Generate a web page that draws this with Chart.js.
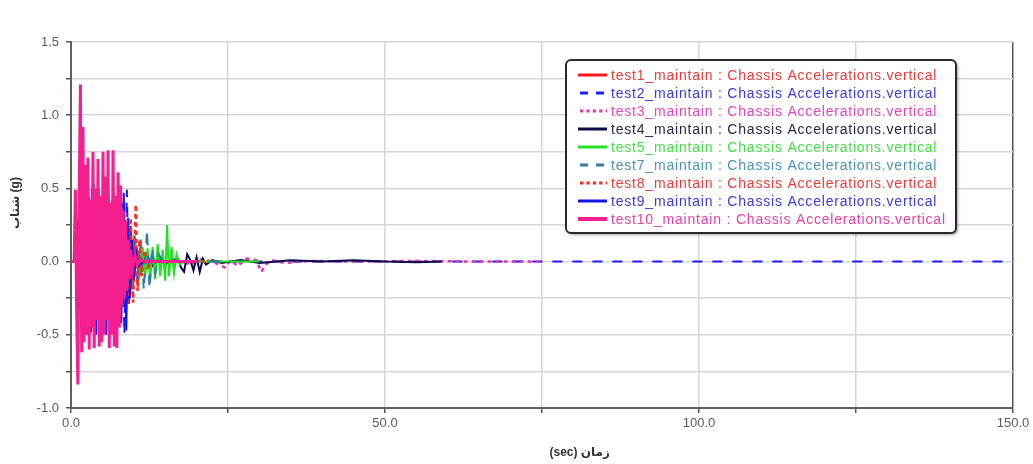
<!DOCTYPE html>
<html>
<head>
<meta charset="utf-8">
<script src="https://cdn.jsdelivr.net/npm/chart.js@4.4.1/dist/chart.umd.min.js"></script>
<style>
  html, body { margin: 0; padding: 0; background: #ffffff; }
  canvas { display: block; }
</style>
</head>
<body>
<canvas id="chart" width="1033" height="464"></canvas>
<script>
// Vertical chassis acceleration (g) against time (s), one run per series.
const seriesNames = [
  'test1_maintain', 'test2_maintain', 'test3_maintain', 'test4_maintain', 'test5_maintain',
  'test7_maintain', 'test8_maintain', 'test9_maintain', 'test10_maintain'
];
const signalName = 'Chassis Accelerations.vertical';

const test1_t = [0, 1.5, 2, 3, 4, 5, 6, 7, 8, 9, 9.5, 10, 10.5, 11, 11.5, 12, 13, 20];
const test1_v = [0, 0, 0.28, -0.3, 0.3, -0.28, 0.3, -0.27, 0.2, -0.15, 0.1, -0.12, 0.08, -0.05, 0.03, -0.01, 0, 0];

const test2_t = [0, 0.9, 1.3, 1.7, 2.1, 2.5, 2.9, 3.3, 3.7, 4.1, 4.5, 4.9, 5.3, 5.7, 6.1, 6.5, 6.9, 7.3, 7.7, 8.1, 8.5, 8.9, 9.2, 9.5, 9.8, 10.1, 10.5, 11, 12, 150];
const test2_v = [0, 0, -0.3, 0.4, -0.42, 0.48, -0.45, 0.5, -0.46, 0.45, -0.44, 0.46, -0.43, 0.47, -0.45, 0.42, -0.46, 0.44, -0.42, 0.4, -0.5, 0.49, -0.3, 0.25, -0.15, 0.1, -0.05, 0.02, 0, 0];

const test3_t = [0, 1.4, 2, 3, 4, 5, 6, 7, 8, 9, 10, 11, 12, 13, 15, 17, 19, 21, 23, 24.5, 25.5, 26.5, 28, 29.5, 30.3, 31, 32, 34, 38, 45, 55, 65, 75];
const test3_v = [0, 0, -0.3, 0.3, -0.3, 0.32, -0.3, 0.3, -0.25, 0.2, -0.12, 0.08, -0.05, 0.03, -0.02, 0.01, -0.02, 0.02, -0.01, -0.04, 0.01, -0.03, 0.02, 0.01, -0.07, -0.02, 0.01, -0.01, 0.005, 0, 0.005, 0, 0];

const test4_t = [0, 1.3, 2, 3, 4, 5, 6, 7, 8, 9, 10, 11, 12, 13, 14, 15, 16, 17, 17.5, 18, 18.5, 19, 19.5, 20, 20.5, 21, 21.5, 22.5, 24, 27, 30, 35, 40, 45, 50, 55, 59];
const test4_v = [0, 0, 0.3, -0.3, 0.28, -0.3, 0.3, -0.28, 0.25, -0.2, 0.12, -0.08, 0.05, -0.03, 0.02, -0.02, 0.01, 0.02, -0.04, -0.07, 0.05, 0.01, -0.06, 0.03, -0.07, 0.02, -0.02, 0.01, -0.01, 0.01, -0.01, 0.01, 0, 0.01, 0, -0.005, 0];

const test5_t = [0, 1.2, 2, 3, 4, 5, 6, 7, 8, 9, 10, 10.8, 11.4, 11.8, 12.2, 12.6, 13.0, 13.4, 13.8, 14.2, 14.6, 15.0, 15.3, 15.6, 16.0, 16.4, 16.8, 17.3, 18, 30];
const test5_v = [0, 0, 0.2, -0.2, 0.22, -0.2, 0.2, -0.22, 0.2, -0.18, 0.15, -0.12, 0.1, -0.11, 0.09, -0.13, 0.1, -0.12, 0.12, -0.1, 0.08, -0.13, 0.25, -0.1, 0.1, -0.08, 0.05, -0.02, 0, 0];

const test7_t = [0, 1.1, 1.6, 2.1, 2.6, 3.1, 3.6, 4.1, 4.6, 5.1, 5.6, 6.1, 6.6, 7.1, 7.6, 8.1, 8.6, 9.1, 9.6, 10.1, 10.6, 11.1, 11.6, 12.1, 12.5, 12.9, 13.4, 14, 14.8, 16, 25];
const test7_v = [0, 0, -0.25, 0.3, -0.3, 0.28, -0.32, 0.3, -0.3, 0.3, -0.28, 0.3, -0.3, 0.28, -0.3, 0.28, -0.25, 0.22, -0.22, 0.2, -0.18, 0.15, -0.2, 0.22, -0.19, 0.1, -0.08, 0.05, -0.02, 0, 0];

const test8_t = [0, 1.0, 1.5, 2.0, 2.5, 3.0, 3.5, 4.0, 4.5, 5.0, 5.5, 6.0, 6.5, 7.0, 7.5, 8.0, 8.5, 9.0, 9.5, 9.9, 10.3, 10.6, 10.9, 11.3, 11.7, 12.2, 13, 22];
const test8_v = [0, 0, 0.3, -0.3, 0.35, -0.32, 0.34, -0.3, 0.36, -0.33, 0.35, -0.3, 0.33, -0.32, 0.3, -0.3, 0.32, -0.3, 0.3, -0.28, 0.39, -0.2, 0.15, -0.1, 0.08, -0.04, 0, 0];

const test9_t = [0, 0.8, 1.2, 1.6, 2.0, 2.4, 2.8, 3.2, 3.6, 4.0, 4.4, 4.8, 5.2, 5.6, 6.0, 6.4, 6.8, 7.2, 7.6, 8.0, 8.4, 8.8, 9.1, 9.4, 9.7, 10.0, 10.4, 10.8, 11.5, 18];
const test9_v = [0, 0, 0.3, -0.45, 0.38, -0.5, 0.45, -0.48, 0.53, -0.5, 0.5, -0.47, 0.48, -0.5, 0.45, -0.48, 0.46, -0.45, 0.4, -0.42, 0.47, -0.47, 0.3, -0.25, 0.15, -0.12, 0.06, -0.03, 0, 0];

const test10_t = [0, 0.5, 0.7, 0.9, 1.1, 1.3, 1.5, 1.7, 1.9, 2.1, 2.3, 2.5, 2.7, 2.9, 3.1, 3.3, 3.5, 3.7, 3.9, 4.1, 4.3, 4.5, 4.7, 4.9, 5.1, 5.3, 5.5, 5.7, 5.9, 6.1, 6.3, 6.5, 6.7, 6.9, 7.1, 7.3, 7.5, 7.7, 7.9, 8.1, 8.3, 8.5, 8.7, 8.9, 9.1, 9.3, 9.5, 9.8, 10.2, 10.6, 11, 12, 20];
const test10_v = [0, 0, 0.49, -0.35, -0.84, 0.45, 1.21, -0.62, 0.92, -0.55, 0.66, -0.5, 0.71, -0.6, 0.42, -0.45, 0.75, -0.59, 0.5, -0.4, 0.7, -0.58, 0.45, -0.55, 0.75, -0.5, 0.58, -0.4, 0.76, -0.59, 0.4, -0.5, 0.76, -0.58, 0.45, -0.59, 0.61, -0.45, 0.52, -0.3, 0.35, -0.25, 0.28, -0.2, 0.15, -0.12, 0.08, -0.05, 0.04, -0.02, 0.01, 0, 0];

const xTickLabels = ['0.0', '50.0', '100.0', '150.0'];
const yTickLabels = ['-1.0', '-0.5', '0.0', '0.5', '1.0', '1.5'];
const xTitle = '(sec) زمان';
const yTitle = 'شتاب (g)';

const times = [test1_t, test2_t, test3_t, test4_t, test5_t, test7_t, test8_t, test9_t, test10_t];
const values = [test1_v, test2_v, test3_v, test4_v, test5_v, test7_v, test8_v, test9_v, test10_v];

// Line styles per run
const lineColors = ['#ff1a1a', '#1a1aff', '#e536aa', '#0c0c4a', '#22e022', '#2f7fa0', '#ff2a1a', '#1414e6', '#f51f8f'];
const textColors = ['#ec3b3b', '#3b3bd6', '#e446bd', '#25254f', '#45e045', '#4a93b5', '#ec3b3b', '#3b3bd6', '#ea3fa5'];
const lineDashes = [[], [10, 10], [4, 4], [], [], [10, 10], [4, 4], [], []];
const lineWidths = [2, 2, 2.5, 2, 2, 2, 2.5, 2, 3];

const FONT = "'Liberation Sans', Arial, 'DejaVu Sans', sans-serif";

const datasets = seriesNames.map((name, i) => ({
  label: name + ' : ' + signalName,
  data: times[i].map((t, k) => ({ x: t, y: values[i][k] })),
  borderColor: lineColors[i],
  backgroundColor: lineColors[i],
  borderWidth: lineWidths[i],
  borderDash: lineDashes[i],
  pointRadius: 0,
  tension: 0,
  fill: false,
  order: seriesNames.length - 1 - i
}));

// Legend box and axis titles
const overlay = {
  id: 'overlay',
  afterDraw(chart) {
    const ctx = chart.ctx;
    const xs = chart.scales.x, ys = chart.scales.y;

    ctx.save();
    ctx.fillStyle = '#333333';
    ctx.font = 'bold 12px ' + FONT;
    ctx.textAlign = 'center';
    ctx.textBaseline = 'middle';
    ctx.direction = 'ltr';
    ctx.fillText(xTitle, xs.getPixelForValue(81), 453);
    ctx.translate(16, ys.getPixelForValue(0.4));
    ctx.rotate(-Math.PI / 2);
    ctx.fillText(yTitle, 0, 0);
    ctx.restore();

    // legend frame
    const bx = 566, by = 60, bw = 390, bh = 173, r = 5;
    ctx.save();
    ctx.shadowColor = 'rgba(0,0,0,0.35)';
    ctx.shadowBlur = 3;
    ctx.shadowOffsetX = 2;
    ctx.shadowOffsetY = 2;
    ctx.beginPath();
    ctx.roundRect(bx, by, bw, bh, r);
    ctx.fillStyle = '#ffffff';
    ctx.fill();
    ctx.shadowColor = 'transparent';
    ctx.lineWidth = 2;
    ctx.strokeStyle = '#2a2a2a';
    ctx.stroke();
    ctx.restore();

    ctx.save();
    ctx.font = '14px ' + FONT;
    ctx.letterSpacing = '0.8px';
    ctx.textAlign = 'left';
    ctx.textBaseline = 'middle';
    seriesNames.forEach((name, i) => {
      const y = 75 + i * 18;
      ctx.beginPath();
      ctx.setLineDash(lineDashes[i].length ? lineDashes[i].map(d => d * 0.8) : []);
      ctx.lineDashOffset = lineDashes[i].length ? -2 : 0;
      ctx.strokeStyle = lineColors[i];
      ctx.lineWidth = i === 8 ? 4 : 3;
      ctx.moveTo(578, y);
      ctx.lineTo(607, y);
      ctx.stroke();
      ctx.setLineDash([]);
      ctx.fillStyle = textColors[i];
      ctx.fillText(name + ' : ' + signalName, 611, y + 1);
    });
    ctx.restore();
  }
};

new Chart(document.getElementById('chart'), {
  type: 'line',
  data: { datasets },
  plugins: [overlay],
  options: {
    responsive: false,
    animation: false,
    devicePixelRatio: 1,
    layout: { padding: { left: 0, right: 20, top: 42, bottom: 0 } },
    plugins: { legend: { display: false }, tooltip: { enabled: false } },
    scales: {
      x: {
        type: 'linear',
        min: 0, max: 150,
        afterFit: s => { s.height = 56; },
        ticks: {
          stepSize: 25,
          autoSkip: false,
          maxRotation: 0,
          padding: 3,
          color: '#5a5a5a',
          font: { family: FONT, size: 13 },
          callback: v => (v % 50 === 0 ? xTickLabels[v / 50] : '')
        },
        grid: {
          color: ctx => (ctx.tick && ctx.tick.value === 150 ? '#555555' : '#d6d6d6'),
          lineWidth: 1.5,
          tickColor: '#555555',
          tickLength: 5,
          drawTicks: true
        },
        border: { color: '#606060', width: 2 }
      },
      y: {
        type: 'linear',
        min: -1.0, max: 1.5,
        afterFit: s => { s.width = 71; },
        ticks: {
          stepSize: 0.25,
          autoSkip: false,
          padding: 7,
          color: '#5a5a5a',
          font: { family: FONT, size: 13 },
          callback: v => {
            const k = Math.round((v + 1) * 2);
            return Math.abs((v + 1) * 2 - k) < 1e-6 ? yTickLabels[k] : '';
          }
        },
        grid: {
          color: '#d6d6d6',
          lineWidth: 1.5,
          tickColor: '#555555',
          tickLength: 5,
          drawTicks: true
        },
        border: { color: '#606060', width: 2 }
      }
    }
  }
});
</script>
</body>
</html>
